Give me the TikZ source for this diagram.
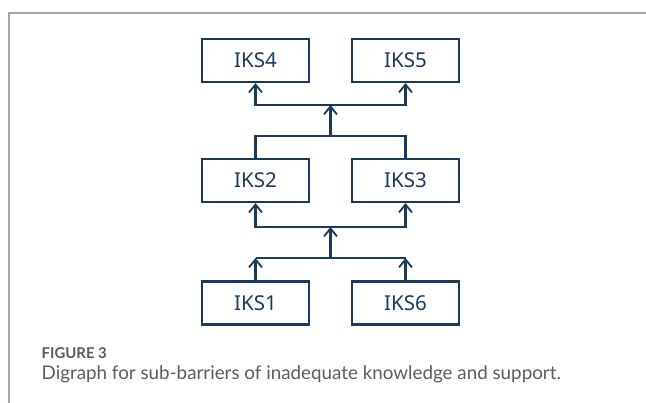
\documentclass[tikz,border=0pt]{standalone}
\usepackage{fontspec}
\setmainfont{Noto Sans}
\newfontfamily\capfont{Lato}
\usetikzlibrary{arrows.meta}
\definecolor{navy}{HTML}{1B3A5C}
\definecolor{framegray}{HTML}{A2A2AA}
\definecolor{captext}{HTML}{5C5C60}
\tikzset{
  iks/.style={draw=navy, line width=2.1pt, minimum width=107pt, minimum height=43pt,
    inner sep=0pt, text=navy, font=\fontsize{20.5}{20.5}\selectfont},
  link/.style={draw=navy, line width=2.1pt},
  uparrow/.style={link, -{Straight Barb[length=8pt, width=13pt, line width=1.8pt]}},
}
\begin{document}
\begin{tikzpicture}[x=1pt, y=-1pt]
  \useasboundingbox (0,0) rectangle (646,403);
  \fill[white] (0,0) rectangle (646,403);

  % frame lines
  \draw[framegray, line width=1.5pt] (9,403) -- (9,13) -- (646,13);

  % levels
  \node[iks] (iks4) at (255.5,60.5) {IKS4};
  \node[iks] (iks5) at (405.5,60.5) {IKS5};
  \node[iks] (iks2) at (255.5,180.5) {IKS2};
  \node[iks] (iks3) at (405.5,180.5) {IKS3};
  \node[iks] (iks1) at (255.5,303) {IKS1};
  \node[iks] (iks6) at (405.5,303) {IKS6};

  % junction points
  \coordinate (topbar) at (330.5,105);
  \coordinate (midbar) at (330.5,136);
  \coordinate (lowbar) at (330.5,227);
  \coordinate (basebar) at (330.5,258);

  % IKS2, IKS3 -> IKS4, IKS5
  \draw[link] (iks2.north) |- (midbar) -| (iks3.north);
  \draw[uparrow] (midbar) -- (topbar);
  \draw[uparrow] (topbar) -| (iks4.south);
  \draw[uparrow] (topbar) -| (iks5.south);

  % IKS1, IKS6 -> IKS2, IKS3
  \draw[uparrow] (iks1.north) -- (iks1.north |- basebar);
  \draw[uparrow] (iks6.north) -- (iks6.north |- basebar);
  \draw[link] (iks1.north |- basebar) -- (iks6.north |- basebar);
  \draw[uparrow] (basebar) -- (lowbar);
  \draw[uparrow] (lowbar) -| (iks2.south);
  \draw[uparrow] (lowbar) -| (iks3.south);

  % caption
  \node[anchor=west, inner sep=0pt, text=captext, font=\capfont\bfseries\fontsize{14.9}{14.9}\selectfont]
    (figlabel) at (41.5,353) {FIGURE 3};
  \node[anchor=west, inner sep=0pt, text=captext, font=\capfont\fontsize{18.8}{18.8}\selectfont]
    (figcaption) at (41.5,374) {Digraph for sub-barriers of inadequate knowledge and support.};
\end{tikzpicture}
\end{document}
